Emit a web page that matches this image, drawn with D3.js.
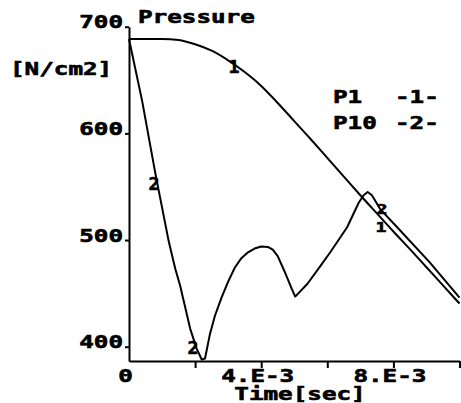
<!DOCTYPE html>
<html>
<head>
<script src="https://d3js.org/d3.v7.min.js"></script>
<style>
  body { margin: 0; background: #fff; }
  text { font-family: "DejaVu Sans Mono", monospace; font-weight: bold; font-size: 17.5px; fill: #000; stroke: #000; stroke-width: 0.6px; }
  .axis path, .axis line { stroke: #000; stroke-width: 2; }
</style>
</head>
<body>
<div id="chart"></div>
<script>
// time in ms (axis shows E-3 sec), pressure in N/cm2
var t1 = [0, 0.5, 1, 1.5, 2, 2.5, 3, 3.5, 4, 4.5, 5, 5.5, 6, 6.5, 7, 7.5, 8, 8.5, 9, 9.5, 10];
var p1 = [688.5, 688.5, 688.5, 687.5, 683.5, 677.5, 668.5, 657.5, 644.5, 628.5, 611.5, 594.5, 577, 559.5, 542, 525, 508, 491.5, 474.5, 457.5, 440.5];

var t2 = [0, 0.4, 0.8, 1.2, 1.4, 1.55, 1.85, 2.05, 2.2, 2.3, 2.45, 2.6, 2.8, 3.0, 3.2, 3.4, 3.6, 3.8, 4.0, 4.2, 4.35, 4.5, 4.7, 4.9, 5.03,
          5.4, 5.8, 6.1, 6.6, 6.95, 7.1, 7.22, 7.35, 7.6, 8.1, 9.1, 10];
var p2 = [688.5, 630, 562, 499, 473, 457, 417, 398, 388, 389, 412, 429, 446, 461, 474, 483, 488.5, 492, 494, 493.5, 491, 485, 471, 456, 447,
          459, 476, 489, 512, 535, 542, 545, 542, 529, 512.5, 479, 446];

var yTicks = [400, 500, 600, 700];
var xTicks = [0, 2, 4, 6, 8, 10];
var xTickLabels = ["0", "", "4.E-3", "", "8.E-3", ""];

var width = 461, height = 403;
var cw = 14.6; // character cell width of the stretched mono font

var svg = d3.select('#chart').append('svg')
    .attr('width', width)
    .attr('height', height);

var x = d3.scaleLinear().domain([0, 10]).range([129, 459.5]);
var y = d3.scaleLinear().domain([386.6, 700]).range([361, 26.7]);

// stretch mono text so its cells match the wide plotter font
function stretch(sel) {
  sel.attr('textLength', function() { return this.textContent.length * cw; })
     .attr('lengthAdjust', 'spacingAndGlyphs');
}
function label(str, px, py, anchor) {
  svg.append('text')
     .attr('x', px).attr('y', py)
     .attr('text-anchor', anchor || 'start')
     .text(str)
     .call(stretch);
}
function marker(str, px, py, size) {
  svg.append('text')
     .attr('x', px).attr('y', py)
     .attr('text-anchor', 'middle')
     .attr('textLength', 11).attr('lengthAdjust', 'spacingAndGlyphs')
     .style('font-size', size ? size + 'px' : null)
     .text(str);
}

// axes
var yAxis = svg.append('g')
    .attr('class', 'axis')
    .attr('transform', 'translate(129,0)')
    .call(d3.axisLeft(y).tickValues(yTicks).tickSize(4).tickSizeOuter(0).tickFormat(d3.format('d')));
yAxis.selectAll('text').attr('x', -6).attr('dy', 1).call(stretch);

var xAxis = svg.append('g')
    .attr('class', 'axis')
    .attr('transform', 'translate(0,361)')
    .call(d3.axisBottom(x).tickValues(xTicks).tickSize(7).tickSizeOuter(0)
          .tickFormat(function(d, i) { return xTickLabels[i]; }));
xAxis.selectAll('.tick').filter(function(d) { return d === 0; }).select('line').remove();
xAxis.selectAll('text').attr('y', 21).attr('dy', 0).attr('dx', -4).call(stretch);
svg.selectAll('.axis').attr('font-size', null).attr('font-family', null);

// curves
var line1 = d3.line().x(function(d) { return x(d[0]); }).y(function(d) { return y(d[1]); }).curve(d3.curveMonotoneX);
var line2 = d3.line().x(function(d) { return x(d[0]); }).y(function(d) { return y(d[1]); });

svg.append('path')
    .datum(d3.zip(t1, p1))
    .attr('d', line1)
    .attr('fill', 'none').attr('stroke', '#000').attr('stroke-width', 2);

svg.append('path')
    .datum(d3.zip(t2, p2))
    .attr('d', line2)
    .attr('fill', 'none').attr('stroke', '#000').attr('stroke-width', 2)
    .attr('stroke-linejoin', 'round');

// titles
label('Pressure', 138, 22.5);
label('[N/cm2]', 10, 75);
label('Time[sec]', 300, 399.5, 'middle');

// legend
label('P1', 333, 103);
label('-1-', 395, 103);
label('P10', 333, 129);
label('-2-', 395, 129);

// curve markers
marker('1', 234, 73);
marker('1', 381, 232, 14);
marker('2', 154, 190);
marker('2', 193, 354);
marker('2', 382, 214, 14);
</script>
</body>
</html>
